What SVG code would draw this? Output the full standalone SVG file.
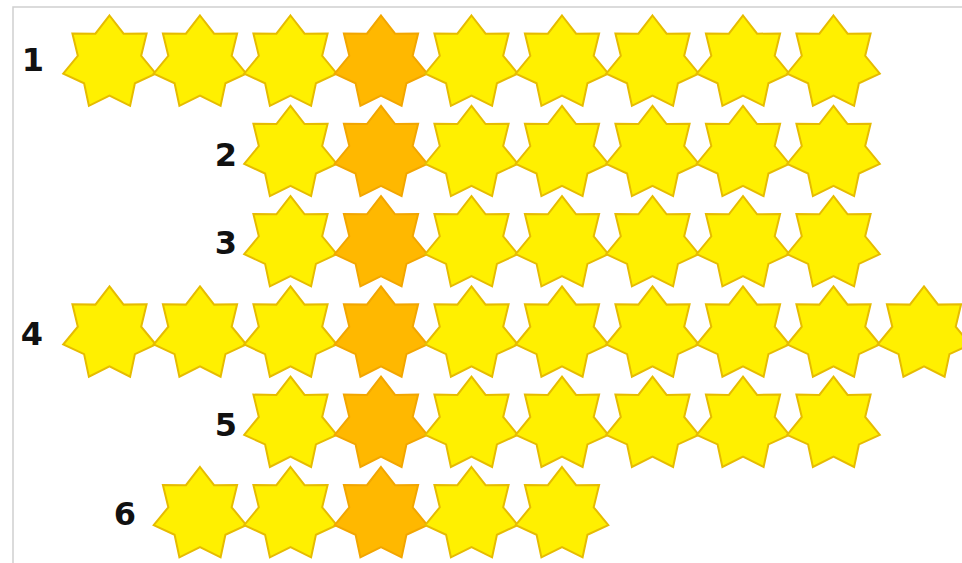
<svg xmlns="http://www.w3.org/2000/svg" xmlns:xlink="http://www.w3.org/1999/xlink" width="962" height="563" viewBox="0 0 962 563">
<style>
.y{fill:#FFF000;stroke:#E6BC00;stroke-width:2;stroke-linejoin:miter}
.o{fill:#FFB800;stroke:#F2A600;stroke-width:2;stroke-linejoin:miter}
.lbl{font-family:"DejaVu Sans","Liberation Sans",sans-serif;font-weight:bold;font-size:32px;fill:#111;text-anchor:middle}
.frame{fill:none;stroke:#D0D0D0;stroke-width:1.5}
</style>
<defs>
<path id="star" d="M0,-47.5 L14.10,-29.28 L37.1,-29.6 L31.68,-7.23 L46.3,10.6 L25.41,20.26 L20.6,42.8 L0,32.5 L-20.6,42.8 L-25.41,20.26 L-46.3,10.6 L-31.68,-7.23 L-37.1,-29.6 L-14.10,-29.28 Z"/>
</defs>
<rect width="962" height="563" fill="#FFFFFF"/>
<path class="frame" d="M13,563 L13,7 L962,7"/>
<g id="connectors"></g>
<g id="labels">
<text id="label1" class="lbl" x="33" y="71">1</text>
<text id="label2" class="lbl" x="226" y="166">2</text>
<text id="label3" class="lbl" x="226" y="254">3</text>
<text id="label4" class="lbl" x="32" y="345">4</text>
<text id="label5" class="lbl" x="226" y="436">5</text>
<text id="label6" class="lbl" x="125" y="525">6</text>
</g>
<g id="row1">
<g id="r1s1"><use href="#star" class="y" x="109.5" y="63"/></g>
<g id="r1s2"><use href="#star" class="y" x="200" y="63"/></g>
<g id="r1s3"><use href="#star" class="y" x="290.5" y="63"/></g>
<g id="r1s4"><use href="#star" class="o" x="381" y="63"/></g>
<g id="r1s5"><use href="#star" class="y" x="471.5" y="63"/></g>
<g id="r1s6"><use href="#star" class="y" x="562" y="63"/></g>
<g id="r1s7"><use href="#star" class="y" x="652.5" y="63"/></g>
<g id="r1s8"><use href="#star" class="y" x="743" y="63"/></g>
<g id="r1s9"><use href="#star" class="y" x="833.5" y="63"/></g>
</g>
<g id="row2">
<g id="r2s1"><use href="#star" class="y" x="290.5" y="153.3"/></g>
<g id="r2s2"><use href="#star" class="o" x="381" y="153.3"/></g>
<g id="r2s3"><use href="#star" class="y" x="471.5" y="153.3"/></g>
<g id="r2s4"><use href="#star" class="y" x="562" y="153.3"/></g>
<g id="r2s5"><use href="#star" class="y" x="652.5" y="153.3"/></g>
<g id="r2s6"><use href="#star" class="y" x="743" y="153.3"/></g>
<g id="r2s7"><use href="#star" class="y" x="833.5" y="153.3"/></g>
</g>
<g id="row3">
<g id="r3s1"><use href="#star" class="y" x="290.5" y="243.6"/></g>
<g id="r3s2"><use href="#star" class="o" x="381" y="243.6"/></g>
<g id="r3s3"><use href="#star" class="y" x="471.5" y="243.6"/></g>
<g id="r3s4"><use href="#star" class="y" x="562" y="243.6"/></g>
<g id="r3s5"><use href="#star" class="y" x="652.5" y="243.6"/></g>
<g id="r3s6"><use href="#star" class="y" x="743" y="243.6"/></g>
<g id="r3s7"><use href="#star" class="y" x="833.5" y="243.6"/></g>
</g>
<g id="row4">
<g id="r4s1"><use href="#star" class="y" x="109.5" y="333.9"/></g>
<g id="r4s2"><use href="#star" class="y" x="200" y="333.9"/></g>
<g id="r4s3"><use href="#star" class="y" x="290.5" y="333.9"/></g>
<g id="r4s4"><use href="#star" class="o" x="381" y="333.9"/></g>
<g id="r4s5"><use href="#star" class="y" x="471.5" y="333.9"/></g>
<g id="r4s6"><use href="#star" class="y" x="562" y="333.9"/></g>
<g id="r4s7"><use href="#star" class="y" x="652.5" y="333.9"/></g>
<g id="r4s8"><use href="#star" class="y" x="743" y="333.9"/></g>
<g id="r4s9"><use href="#star" class="y" x="833.5" y="333.9"/></g>
<g id="r4s10"><use href="#star" class="y" x="924" y="333.9"/></g>
</g>
<g id="row5">
<g id="r5s1"><use href="#star" class="y" x="290.5" y="424.2"/></g>
<g id="r5s2"><use href="#star" class="o" x="381" y="424.2"/></g>
<g id="r5s3"><use href="#star" class="y" x="471.5" y="424.2"/></g>
<g id="r5s4"><use href="#star" class="y" x="562" y="424.2"/></g>
<g id="r5s5"><use href="#star" class="y" x="652.5" y="424.2"/></g>
<g id="r5s6"><use href="#star" class="y" x="743" y="424.2"/></g>
<g id="r5s7"><use href="#star" class="y" x="833.5" y="424.2"/></g>
</g>
<g id="row6">
<g id="r6s1"><use href="#star" class="y" x="200" y="514.5"/></g>
<g id="r6s2"><use href="#star" class="y" x="290.5" y="514.5"/></g>
<g id="r6s3"><use href="#star" class="o" x="381" y="514.5"/></g>
<g id="r6s4"><use href="#star" class="y" x="471.5" y="514.5"/></g>
<g id="r6s5"><use href="#star" class="y" x="562" y="514.5"/></g>
</g>
</svg>
